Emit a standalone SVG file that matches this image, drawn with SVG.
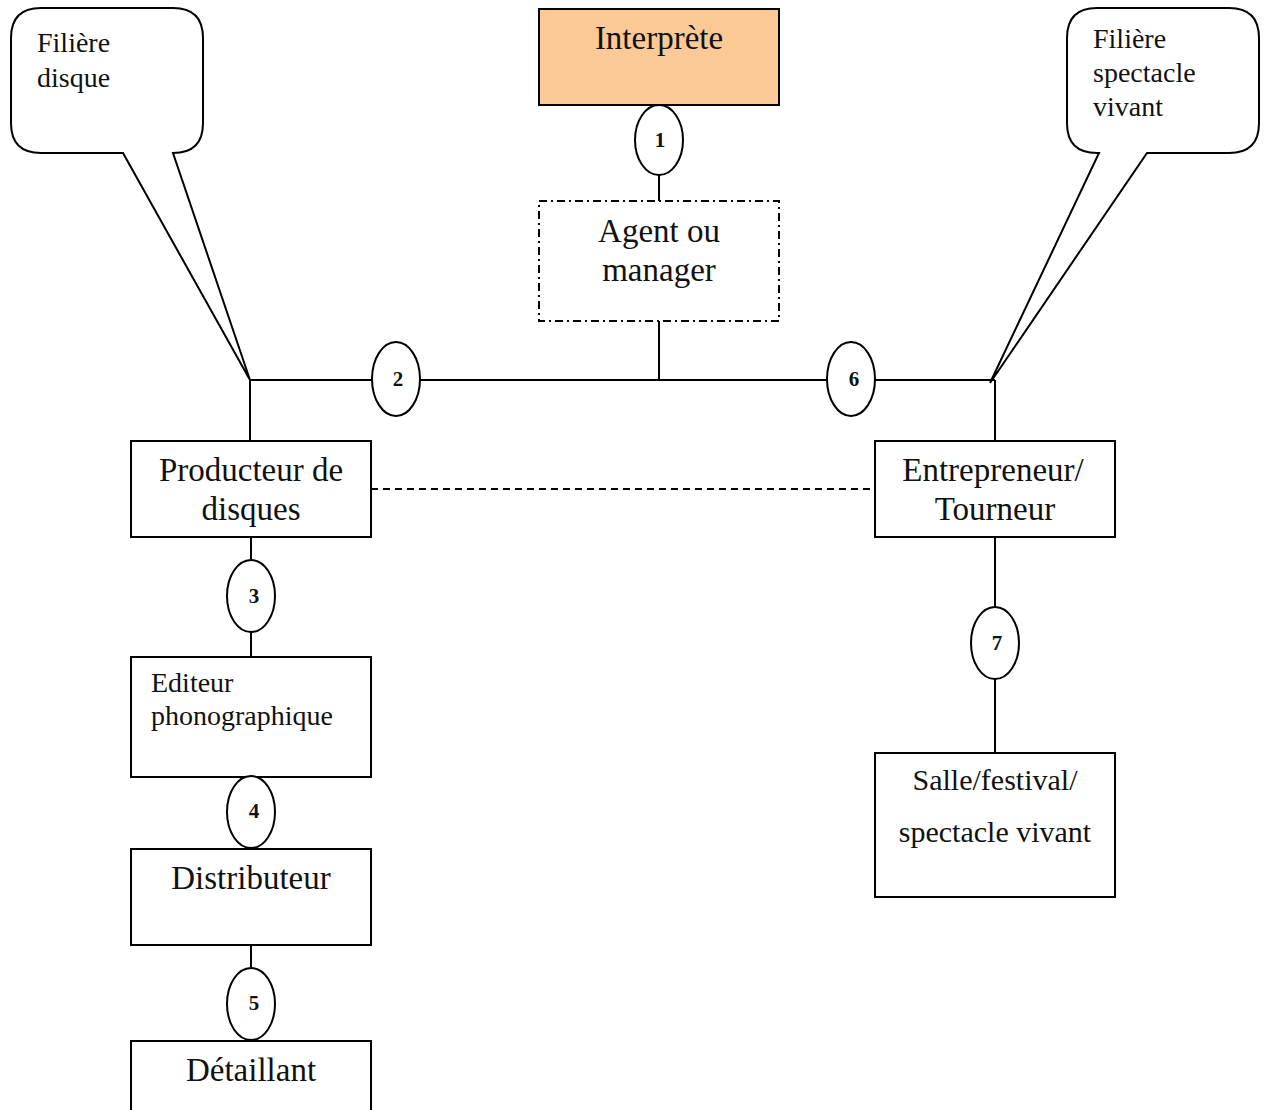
<svg xmlns="http://www.w3.org/2000/svg" width="1264" height="1110" viewBox="0 0 1264 1110">
<style>
.box{fill:#fff;stroke:#000;stroke-width:2}
.ell{fill:#fff;stroke:#000;stroke-width:2}
.ln{fill:none;stroke:#000;stroke-width:2}
.t{font-family:"Liberation Serif",serif;font-size:33px;fill:#111;text-anchor:middle}
.s{font-family:"Liberation Serif",serif;font-size:28px;fill:#111}
.n{font-family:"Liberation Serif",serif;font-size:21px;font-weight:bold;fill:#111;text-anchor:middle}
</style>
<rect width="1264" height="1110" fill="#fff"/>
<g id="connectors">
<line class="ln" x1="659" y1="105" x2="659" y2="201"/>
<line class="ln" x1="659" y1="321" x2="659" y2="380"/>
<line class="ln" x1="250" y1="380" x2="995" y2="380"/>
<line class="ln" x1="250" y1="380" x2="250" y2="441"/>
<line class="ln" x1="995" y1="380" x2="995" y2="441"/>
<line class="ln" x1="371" y1="489" x2="875" y2="489" stroke-dasharray="7,5"/>
<line class="ln" x1="251" y1="537" x2="251" y2="657"/>
<line class="ln" x1="251" y1="777" x2="251" y2="849"/>
<line class="ln" x1="251" y1="945" x2="251" y2="1041"/>
<line class="ln" x1="995" y1="537" x2="995" y2="753"/>
</g>
<g id="callout-disque">
<path class="ln" d="M41 8 H173 Q203 8 203 38 V123 Q203 153 173 153 L250 380 L123 153 H41 Q11 153 11 123 V38 Q11 8 41 8 Z" style="fill:#fff"/>
<text class="s" x="37" y="52">Filière</text>
<text class="s" x="37" y="87">disque</text>
</g>
<g id="callout-spectacle">
<path class="ln" d="M1097 8 H1229 Q1259 8 1259 38 V123 Q1259 153 1229 153 H1147 L990 383 L1099 153 H1097 Q1067 153 1067 123 V38 Q1067 8 1097 8 Z" style="fill:#fff"/>
<text class="s" x="1093" y="48">Filière</text>
<text class="s" x="1093" y="82">spectacle</text>
<text class="s" x="1093" y="116">vivant</text>
</g>
<g id="interprete">
<rect x="539" y="9" width="240" height="96" fill="#fbc995" stroke="#000" stroke-width="2"/>
<text class="t" x="659" y="49">Interprète</text>
</g>
<g id="c1"><ellipse class="ell" cx="659" cy="140" rx="24" ry="35"/><text class="n" x="660" y="147">1</text></g>
<g id="agent">
<rect x="539" y="201" width="240" height="120" fill="#fff" stroke="#000" stroke-width="2" stroke-dasharray="8,4,2,4"/>
<text class="t" x="659" y="242">Agent ou</text>
<text class="t" x="659" y="281">manager</text>
</g>
<g id="c2"><ellipse class="ell" cx="396" cy="379" rx="24" ry="37"/><text class="n" x="398" y="386">2</text></g>
<g id="c6"><ellipse class="ell" cx="851" cy="379" rx="24" ry="37"/><text class="n" x="854" y="386">6</text></g>
<g id="producteur">
<rect class="box" x="131" y="441" width="240" height="96"/>
<text class="t" x="251" y="481">Producteur de</text>
<text class="t" x="251" y="520">disques</text>
</g>
<g id="entrepreneur">
<rect class="box" x="875" y="441" width="240" height="96"/>
<text class="t" x="993" y="481">Entrepreneur/</text>
<text class="t" x="995" y="520">Tourneur</text>
</g>
<g id="c3"><ellipse class="ell" cx="251" cy="596" rx="24" ry="36"/><text class="n" x="254" y="603">3</text></g>
<g id="editeur">
<rect class="box" x="131" y="657" width="240" height="120"/>
<text class="s" x="151" y="692">Editeur</text>
<text class="s" x="151" y="725">phonographique</text>
</g>
<g id="c4"><ellipse class="ell" cx="251" cy="812" rx="24" ry="36"/><text class="n" x="254" y="818">4</text></g>
<g id="distributeur">
<rect class="box" x="131" y="849" width="240" height="96"/>
<text class="t" x="251" y="889">Distributeur</text>
</g>
<g id="c5"><ellipse class="ell" cx="251" cy="1004" rx="24" ry="36"/><text class="n" x="254" y="1010">5</text></g>
<g id="detaillant">
<rect class="box" x="131" y="1041" width="240" height="96"/>
<text class="t" x="251" y="1081">Détaillant</text>
</g>
<g id="c7"><ellipse class="ell" cx="995" cy="643" rx="24" ry="36"/><text class="n" x="997" y="650">7</text></g>
<g id="salle">
<rect class="box" x="875" y="753" width="240" height="144"/>
<text class="t" x="995" y="790" style="font-size:30px">Salle/festival/</text>
<text class="t" x="995" y="842" style="font-size:30px">spectacle vivant</text>
</g>
</svg>
